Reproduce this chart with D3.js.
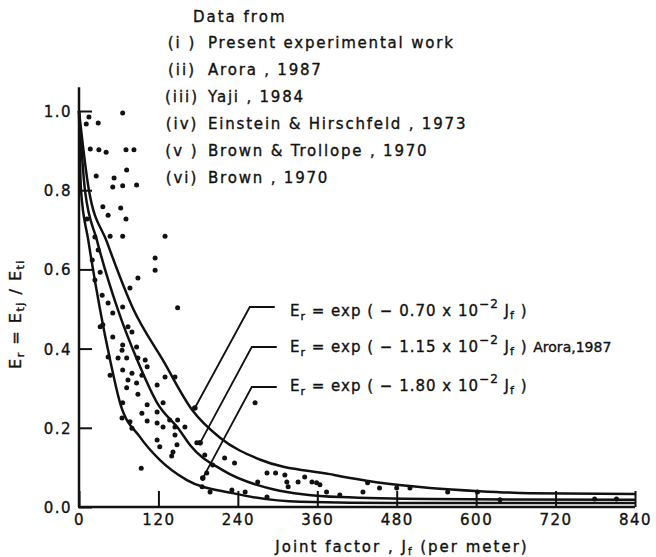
<!DOCTYPE html>
<html>
<head>
<meta charset="utf-8">
<script src="https://cdn.jsdelivr.net/npm/d3@7"></script>
<style>
  html, body { margin: 0; padding: 0; background: #fff; }
  svg text { font-family: "DejaVu Sans", sans-serif; fill: #111; stroke: #111; stroke-width: 0.35px; }
</style>
</head>
<body>
<div id="chart"></div>
<script>
// tick values
var xTicks = [0, 120, 240, 360, 480, 600, 720, 840];
var yTicks = [0.0, 0.2, 0.4, 0.6, 0.8, 1.0];

// fitted curves as drawn in the figure
var outerX = [0, 15, 42, 82, 127, 171, 213, 273, 379, 455, 530, 605, 681, 840];
var outerY = [1.0, 0.80, 0.67, 0.50, 0.37, 0.245, 0.175, 0.12, 0.083, 0.061, 0.048, 0.040, 0.035, 0.033];
var middleX = [0, 9, 27, 59, 88, 118, 152, 168, 217, 293, 394, 530, 840];
var middleY = [1.0, 0.80, 0.674, 0.497, 0.371, 0.263, 0.194, 0.156, 0.093, 0.045, 0.025, 0.020, 0.018];
var innerX = [0, 3, 14, 32, 47, 62, 92, 122, 163, 232, 334, 485, 840];
var innerY = [1.0, 0.80, 0.674, 0.497, 0.371, 0.263, 0.177, 0.119, 0.068, 0.035, 0.013, 0.010, 0.010];

// observed points [Jf, Er]
var scatter = [[66,0.995],[15,0.985],[11,0.967],[29,0.970],[17,0.904],[30,0.902],[41,0.896],[71,0.902],[83,0.902],
  [72,0.851],[26,0.836],[53,0.831],[51,0.808],[66,0.811],[87,0.813],[36,0.758],[63,0.755],[44,0.737],[71,0.727],
  [12,0.727],[66,0.684],[130,0.684],[47,0.684],[24,0.682],[115,0.629],[115,0.598],[89,0.578],[77,0.553],[149,0.503],
  [29,0.649],[20,0.624],[32,0.593],[24,0.573],[35,0.535],[44,0.515],[51,0.490],[66,0.505],[32,0.455],[36,0.460],
  [51,0.429],[74,0.455],[80,0.442],[66,0.409],[87,0.404],[44,0.379],[59,0.376],[72,0.376],[89,0.376],[100,0.371],
  [65,0.396],[47,0.333],[66,0.346],[80,0.338],[103,0.354],[95,0.333],[130,0.328],[145,0.328],[74,0.321],[87,0.313],
  [118,0.308],[72,0.301],[89,0.285],[103,0.258],[66,0.263],[127,0.263],[95,0.237],[118,0.240],[65,0.225],[77,0.215],
  [103,0.217],[118,0.212],[137,0.220],[149,0.220],[127,0.202],[145,0.202],[160,0.202],[80,0.199],[118,0.169],
  [122,0.152],[145,0.182],[148,0.157],[142,0.139],[140,0.129],[94,0.098],[178,0.162],[266,0.263],[190,0.131],
  [220,0.124],[235,0.111],[202,0.106],[193,0.086],[186,0.051],[198,0.038],[231,0.043],[251,0.038],[270,0.063],
  [284,0.086],[297,0.086],[311,0.081],[314,0.063],[316,0.051],[331,0.063],[341,0.076],[352,0.063],[359,0.061],
  [364,0.056],[374,0.038],[394,0.030],[429,0.038],[436,0.061],[454,0.048],[480,0.048],[500,0.048],[557,0.038],
  [602,0.038],[636,0.018],[779,0.020],[812,0.020],[284,0.025]];

// legend text
var legendNums = ["(i )", "(ii)", "(iii)", "(iv)", "(v )", "(vi)"];
var legendNames = ["Present experimental work", "Arora , 1987", "Yaji  , 1984",
                   "Einstein & Hirschfeld , 1973", "Brown & Trollope , 1970", "Brown , 1970"];

// equation labels
var eqCoefs = ["0.70", "1.15", "1.80"];
var eqSuffix = ["", "Arora,1987", ""];

var width = 656, height = 557;
var svg = d3.select("#chart").append("svg")
  .attr("width", width).attr("height", height)
  .style("background", "#fff");

var x = d3.scaleLinear().domain([0, 840]).range([79, 635]);
var y = d3.scaleLinear().domain([0, 1]).range([507, 111]);

// axes
var yAxis = d3.axisLeft(y).tickValues(yTicks).tickSize(-13).tickSizeOuter(0)
  .tickPadding(7).tickFormat(d3.format(".1f"));
var xAxis = d3.axisBottom(x).tickValues(xTicks).tickSize(-16).tickSizeOuter(0)
  .tickPadding(7).tickFormat(d3.format("d"));

var gy = svg.append("g").attr("transform", "translate(" + x(0) + ",0)").call(yAxis);
var gx = svg.append("g").attr("transform", "translate(0," + y(0) + ")").call(xAxis);
[gx, gy].forEach(function(g){
  g.select(".domain").remove();
  g.selectAll(".tick line").attr("stroke", "#111").attr("stroke-width", 2);
  g.selectAll(".tick text").attr("font-family", "DejaVu Sans").attr("font-size", 15)
    .attr("fill", "#111").style("letter-spacing", "1.5px");
});
gy.selectAll(".tick text").attr("dy", "0.36em");

// axis lines
svg.append("line").attr("x1", x(0)).attr("x2", x(0)).attr("y1", y(0)).attr("y2", y(1.06))
  .attr("stroke", "#111").attr("stroke-width", 2.5);
svg.append("line").attr("x1", x(0) - 1).attr("x2", x(840)).attr("y1", y(0)).attr("y2", y(0))
  .attr("stroke", "#111").attr("stroke-width", 2.6);

// curves
var line = d3.line().x(function(d){ return x(d[0]); }).y(function(d){ return y(d[1]); })
  .curve(d3.curveMonotoneX);
[[outerX, outerY], [middleX, middleY], [innerX, innerY]].forEach(function(c){
  var pts = c[0].map(function(v, i){ return [v, c[1][i]]; });
  svg.append("path").datum(pts).attr("d", line)
    .attr("fill", "none").attr("stroke", "#111").attr("stroke-width", 2.5);
});

// points
svg.selectAll("circle.pt").data(scatter).enter().append("circle")
  .attr("class", "pt")
  .attr("cx", function(d){ return x(d[0]); })
  .attr("cy", function(d){ return y(d[1]); })
  .attr("r", 2.5).attr("fill", "#111");

// legend
svg.append("text").attr("x", 193).attr("y", 22).attr("font-size", 15)
  .style("letter-spacing", "2px").text("Data  from");
legendNums.forEach(function(n, i){
  svg.append("text").attr("x", 182).attr("y", 48 + i * 27).attr("font-size", 15)
    .attr("text-anchor", "middle").style("letter-spacing", "2px").text(n);
  svg.append("text").attr("x", 208).attr("y", 48 + i * 27).attr("font-size", 15)
    .style("letter-spacing", "1.8px").text(legendNames[i]);
});

// equations with leader lines
var leaders = [
  {end: [175, 0.25], corner: [258, 0.505], base: 316},
  {end: [183, 0.162], corner: [261, 0.404], base: 352},
  {end: [187, 0.073], corner: [261, 0.303], base: 391}
];
eqCoefs.forEach(function(c, i){
  var L = leaders[i];
  svg.append("path")
    .attr("d", "M" + x(L.end[0]) + "," + y(L.end[1]) +
               "L" + x(L.corner[0]) + "," + y(L.corner[1]) +
               "L" + (x(L.corner[0]) + 25) + "," + y(L.corner[1]))
    .attr("fill", "none").attr("stroke", "#111").attr("stroke-width", 1.8);
  svg.append("circle").attr("cx", x(L.end[0])).attr("cy", y(L.end[1])).attr("r", 2.8).attr("fill", "#111");

  var t = svg.append("text").attr("x", 290).attr("y", L.base).attr("font-size", 15)
    .style("letter-spacing", "1px");
  t.append("tspan").text("E");
  t.append("tspan").attr("dy", 4).attr("font-size", 11).text("r");
  t.append("tspan").attr("dy", -4).text("  = exp ( \u2212 " + c + " x 10");
  t.append("tspan").attr("dy", -8).attr("font-size", 12).text("\u22122");
  t.append("tspan").attr("dy", 8).text(" J");
  t.append("tspan").attr("dy", 3).attr("font-size", 11).text("f");
  t.append("tspan").attr("dy", -3).text("  ) ");
  t.append("tspan").attr("font-size", 14).style("letter-spacing", "0px").text(eqSuffix[i]);
});

// axis titles
var xt = svg.append("text").attr("x", 402).attr("y", 552).attr("text-anchor", "middle")
  .attr("font-size", 15).style("letter-spacing", "2px");
xt.append("tspan").text("Joint factor , J");
xt.append("tspan").attr("dy", 3).attr("font-size", 10).text("f");
xt.append("tspan").attr("dy", -3).text(" (per meter)");

var yt = svg.append("text").attr("transform", "translate(21,314) rotate(-90)")
  .attr("text-anchor", "middle").attr("font-size", 16).style("letter-spacing", "1.5px");
yt.append("tspan").text("E");
yt.append("tspan").attr("dy", 3).attr("font-size", 11).text("r");
yt.append("tspan").attr("dy", -3).text(" = E");
yt.append("tspan").attr("dy", 3).attr("font-size", 11).text("tj");
yt.append("tspan").attr("dy", -3).text(" / E");
yt.append("tspan").attr("dy", 3).attr("font-size", 11).text("ti");
</script>
</body>
</html>
